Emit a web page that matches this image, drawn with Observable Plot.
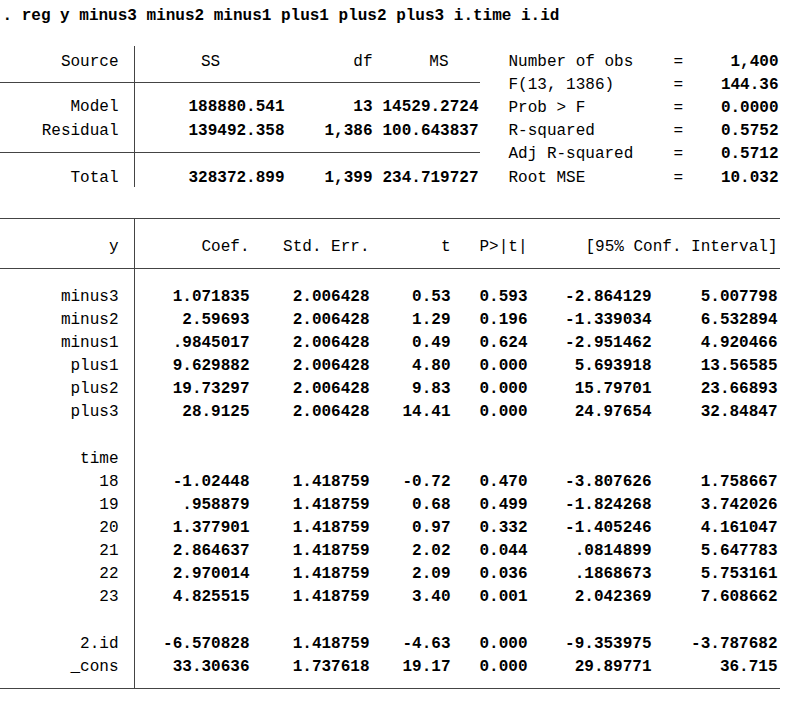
<!DOCTYPE html>
<html><head><meta charset="utf-8">
<script src="https://cdn.jsdelivr.net/npm/d3@7"></script>
<script src="https://cdn.jsdelivr.net/npm/@observablehq/plot@0.6"></script>
<style>body{margin:0;background:#fff}</style>
</head><body><div id="chart"></div>
<script>
// data
const command = ". reg y minus3 minus2 minus1 plus1 plus2 plus3 i.time i.id";
const anovaHead = ["Source", "SS", "df", "MS"];
const anovaRows = [
  ["Model", "188880.541", "13", "14529.2724"],
  ["Residual", "139492.358", "1,386", "100.643837"],
  ["Total", "328372.899", "1,399", "234.719727"]
];
const statLabels = ["Number of obs", "F(13, 1386)", "Prob > F", "R-squared", "Adj R-squared", "Root MSE"];
const statValues = ["1,400", "144.36", "0.0000", "0.5752", "0.5712", "10.032"];
const coefHead = ["y", "Coef.", "Std. Err.", "t", "P>|t|", "[95% Conf. Interval]"];
const terms = ["minus3","minus2","minus1","plus1","plus2","plus3","","time","18","19","20","21","22","23","","2.id","_cons"];
const coef = ["1.071835","2.59693",".9845017","9.629882","19.73297","28.9125","","","-1.02448",".958879","1.377901","2.864637","2.970014","4.825515","","-6.570828","33.30636"];
const se = ["2.006428","2.006428","2.006428","2.006428","2.006428","2.006428","","","1.418759","1.418759","1.418759","1.418759","1.418759","1.418759","","1.418759","1.737618"];
const tval = ["0.53","1.29","0.49","4.80","9.83","14.41","","","-0.72","0.68","0.97","2.02","2.09","3.40","","-4.63","19.17"];
const pval = ["0.593","0.196","0.624","0.000","0.000","0.000","","","0.470","0.499","0.332","0.044","0.036","0.001","","0.000","0.000"];
const ciLo = ["-2.864129","-1.339034","-2.951462","5.693918","15.79701","24.97654","","","-3.807626","-1.824268","-1.405246",".0814899",".1868673","2.042369","","-9.353975","29.89771"];
const ciHi = ["5.007798","6.532894","4.920466","13.56585","23.66893","32.84847","","","1.758667","3.742026","4.161047","5.647783","5.753161","7.608662","","-3.787682","36.715"];

// layout
const anovaX = [118, 284, 372, 478];
const anovaHeadX = [118, 210, 372, 448];
const anovaY = [105, 129, 176];
const statY = (i) => 60 + i * 23.2;
const coefX = [118, 249, 369, 450, 527, 651, 777];
const coefY = (i) => 295 + i * 23.125;

const cells = [];
const add = (x, y, text, bold, anchor) => { if (text) cells.push({x, y, text, bold, anchor}); };
add(2, 14, command, true, "start");
anovaHead.forEach((h, j) => add(anovaHeadX[j], 60, h, false, j === 1 ? "middle" : "end"));
anovaRows.forEach((r, i) => r.forEach((v, j) => add(anovaX[j], anovaY[i], v, j > 0, "end")));
statLabels.forEach((l, i) => {
  add(508, statY(i), l, false, "start");
  add(673, statY(i), "=", false, "start");
  add(778, statY(i), statValues[i], true, "end");
});
add(coefX[0], 245, coefHead[0], false, "end");
add(coefX[1], 245, coefHead[1], false, "end");
add(coefX[2], 245, coefHead[2], false, "end");
add(coefX[3], 245, coefHead[3], false, "end");
add(coefX[4], 245, coefHead[4], false, "end");
add(777, 245, coefHead[5], false, "end");
[terms, coef, se, tval, pval, ciLo, ciHi].forEach((col, j) =>
  col.forEach((v, i) => add(coefX[j], coefY(i), v, j > 0, "end")));

const hlines = [
  {y: 82, x1: 0, x2: 480}, {y: 152, x1: 0, x2: 480},
  {y: 218, x1: 0, x2: 780}, {y: 268, x1: 0, x2: 780}, {y: 688, x1: 0, x2: 780}
];
const vlines = [{x: 134, y1: 46, y2: 187}, {x: 134, y1: 218, y2: 688}];

const font = "Liberation Mono, DejaVu Sans Mono, monospace";
const chart = Plot.plot({
  width: 793, height: 709, margin: 0,
  x: {domain: [0, 793], range: [0, 793], axis: null},
  y: {domain: [0, 709], range: [0, 709], axis: null},
  style: {fontFamily: font, background: "#fff"},
  marks: [
    Plot.ruleY(hlines, {y: "y", x1: "x1", x2: "x2", stroke: "#444", strokeWidth: 1}),
    Plot.ruleX(vlines, {x: "x", y1: "y1", y2: "y2", stroke: "#444", strokeWidth: 1}),
    ...["start", "middle", "end"].flatMap(a => [false, true].map(b =>
      Plot.text(cells.filter(c => c.anchor === a && c.bold === b), {
        x: "x", y: "y", text: "text", textAnchor: a, fontSize: 16,
        fontWeight: b ? "bold" : "normal", fill: "#000", fontFamily: font
      })))
  ]
});
d3.select("#chart").append(() => chart);
</script></body></html>
